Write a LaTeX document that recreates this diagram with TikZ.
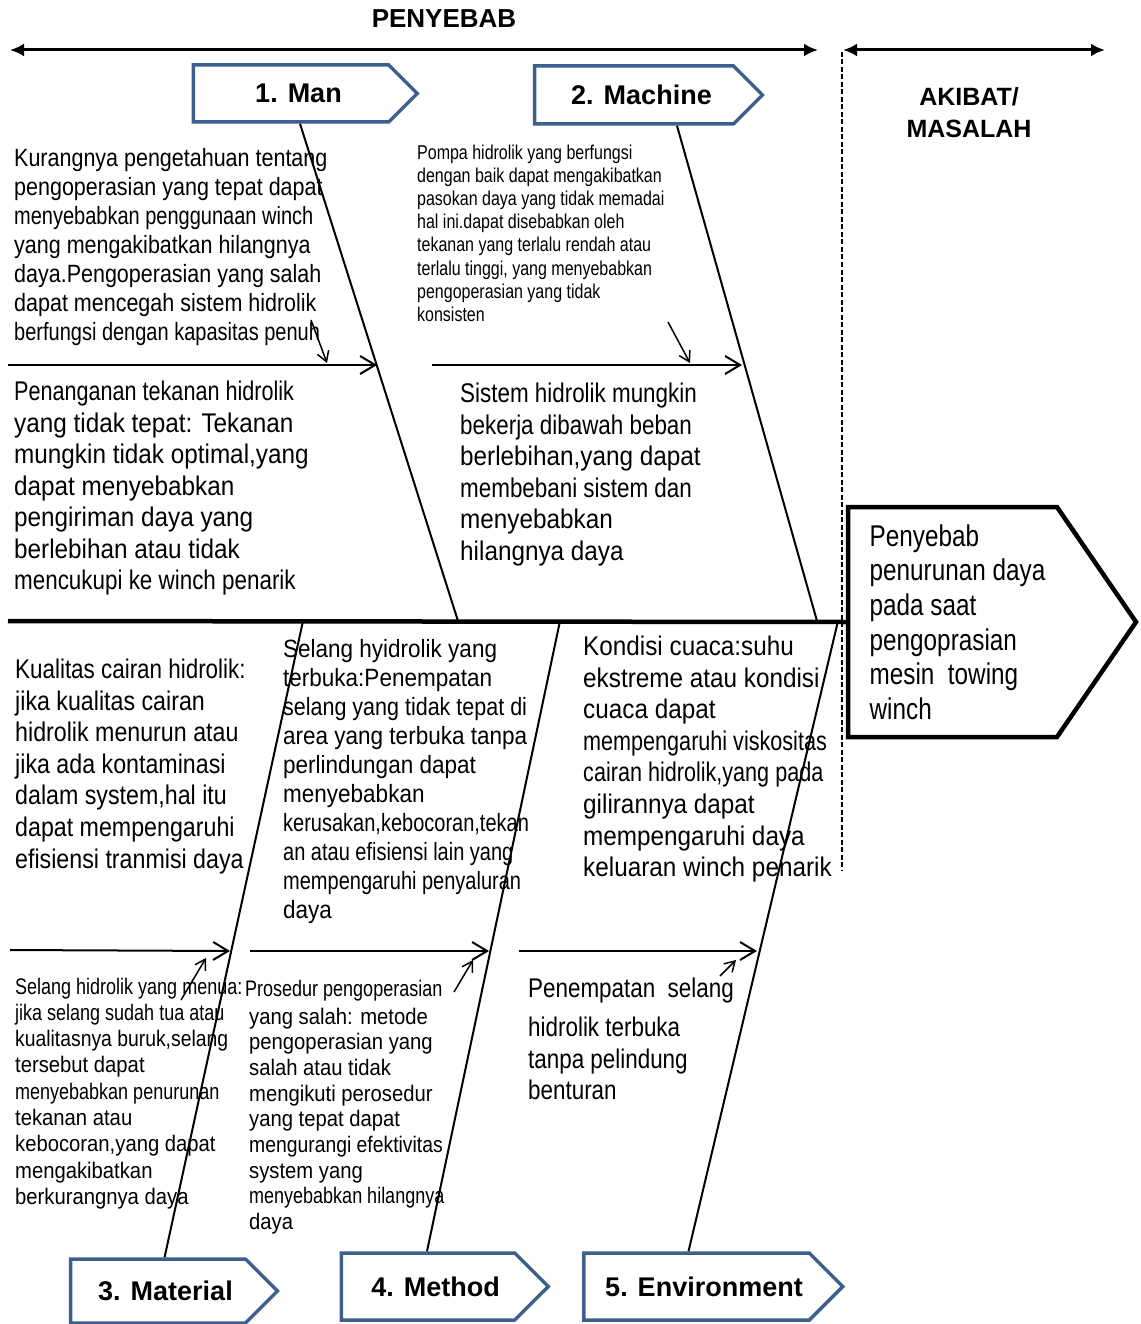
\documentclass[tikz,border=0pt]{standalone}
\usepackage{fontspec}
\setmainfont{Liberation Sans}
\newfontfamily\bodyfont[FakeStretch=0.86]{Liberation Sans}
\newfontfamily\midfont[FakeStretch=0.83]{Liberation Sans}
\newfontfamily\headfont[FakeStretch=0.81]{Liberation Sans}
\newfontfamily\tightfont[FakeStretch=0.8]{Liberation Sans}
\newfontfamily\loosefont[FakeStretch=0.9]{Liberation Sans}
\usetikzlibrary{arrows.meta,shapes.symbols}
\definecolor{catblue}{RGB}{60,95,142}

\tikzset{
  catbox/.style={signal, signal to=east, draw=catblue, line width=3.5pt, inner sep=0pt,
    font=\bfseries\fontsize{27}{32}\selectfont, execute at begin node=\hspace*{15pt}},
  headbox/.style={signal, signal to=east, signal pointer angle=111, draw, line width=4.5pt,
    inner sep=0pt, align=left, font=\headfont\fontsize{30}{34.6}\selectfont},
  cause/.style={anchor=base west, align=left, inner sep=0pt},
  bone/.style={line width=2pt},
  spine/.style={line width=4.5pt},
  twig/.style={line width=2pt, -{Straight Barb[length=15pt,width=18pt]}},
  hint/.style={line width=1.5pt, -{Straight Barb[length=10pt,width=12pt]}},
  span/.style={line width=3pt, {Latex[length=14pt,width=13pt]}-{Latex[length=14pt,width=13pt]}}
}

\begin{document}
\begin{tikzpicture}[x=1pt,y=-1pt]
\useasboundingbox (0,0) rectangle (1140,1324);

% Headings (base of a multi-line node is its last line)
\node[font=\bfseries\fontsize{26}{30}\selectfont, anchor=base] (penyebab) at (444,27.5) {PENYEBAB};
\node[font=\bfseries\fontsize{25}{32}\selectfont, align=center, anchor=base] (akibat) at (969,138) {AKIBAT/\\MASALAH};
\coordinate (cl) at (10,50);
\coordinate (cr) at (818,50);
\coordinate (el) at (843,50);
\coordinate (er) at (1105,50);
\draw[span] (cl) -- (cr);
\draw[span] (el) -- (er);
\coordinate (dtop) at (842,52);
\coordinate (dbot) at (842,870);
\draw[line width=1.3pt, dash pattern=on 5pt off 2.5pt] (dtop) -- (dbot);

% Categories
\node[catbox, minimum width=224pt, minimum height=57pt] (man) at (291,93.5) {1. Man};
\node[catbox, minimum width=228pt, minimum height=58pt] (machine) at (634,95) {2. Machine};
\node[catbox, minimum width=207pt, minimum height=64pt] (material) at (158,1291) {3. Material};
\node[catbox, minimum width=207pt, minimum height=67pt] (method) at (428,1286.5) {4. Method};
\node[catbox, minimum width=259pt, minimum height=67pt] (environment) at (696.5,1286.5) {5. Environment};

% Effect
\node[headbox, minimum width=288pt, minimum height=230pt] (effect) at (952.5,622) {\hspace*{10pt}Penyebab\\\hspace*{10pt}penurunan daya\\\hspace*{10pt}pada saat\\\hspace*{10pt}pengoprasian\\\hspace*{10pt}mesin\ \ towing\\\hspace*{10pt}winch};

% Spine and bones
\coordinate (tail) at (8,621);
\draw[spine] (tail) -- (effect.west);
\coordinate (j1) at (458,621);
\coordinate (j2) at (817,621);
\coordinate (j3) at (303,621);
\coordinate (j4) at (560,621);
\coordinate (j5) at (838,621);
\draw[bone] ([xshift=9pt]man.south) -- (j1);
\draw[bone] ([xshift=43pt]machine.south) -- (j2);
\draw[bone] (j3) -- ([xshift=6.6pt]material.north);
\draw[bone] (j4) -- ([xshift=-1pt]method.north);
\draw[bone] (j5) -- ([xshift=-8pt]environment.north);

% Sub causes
\coordinate (t1s) at (8,365);   \coordinate (t1e) at (377,365);
\coordinate (t2s) at (432,365); \coordinate (t2e) at (742,365);
\coordinate (t3s) at (10,950);  \coordinate (t3e) at (230,951);
\coordinate (t4s) at (250,951); \coordinate (t4e) at (489,951);
\coordinate (t5s) at (519,951); \coordinate (t5e) at (757,951);
\draw[twig] (t1s) -- (t1e);
\draw[twig] (t2s) -- (t2e);
\draw[twig] (t3s) -- (t3e);
\draw[twig] (t4s) -- (t4e);
\draw[twig] (t5s) -- (t5e);

% Small pointers
\coordinate (h1s) at (311,320); \coordinate (h1e) at (327,363);
\coordinate (h2s) at (668,322); \coordinate (h2e) at (690,363);
\coordinate (h3s) at (181,1000); \coordinate (h3e) at (206,958);
\coordinate (h4s) at (454,992); \coordinate (h4e) at (473,960);
\coordinate (h5s) at (720,976); \coordinate (h5e) at (736,960);
\draw[hint] (h1s) -- (h1e);
\draw[hint] (h2s) -- (h2e);
\draw[hint] (h3s) -- (h3e);
\draw[hint] (h4s) -- (h4e);
\draw[hint] (h5s) -- (h5e);

% Cause texts
\node[cause, font=\bodyfont\fontsize{25}{29}\selectfont] (mantop) at (14,340) {Kurangnya pengetahuan tentang\\pengoperasian yang tepat dapat\\{\tightfont menyebabkan penggunaan winch}\\yang mengakibatkan hilangnya\\daya.Pengoperasian yang salah\\dapat mencegah sistem hidrolik\\{\tightfont berfungsi dengan kapasitas penuh}};
\node[cause, font=\tightfont\fontsize{20}{23.2}\selectfont] (machtop) at (417,321.4) {Pompa hidrolik yang berfungsi\\dengan baik dapat mengakibatkan\\pasokan daya yang tidak memadai\\hal ini.dapat disebabkan oleh\\tekanan yang terlalu rendah atau\\terlalu tinggi, yang menyebabkan\\pengoperasian yang tidak\\konsisten};
\node[cause, font=\loosefont\fontsize{27}{31.5}\selectfont] (manlow) at (14,589.5) {{\tightfont Penanganan tekanan hidrolik}\\yang tidak tepat: Tekanan\\mungkin tidak optimal,yang\\dapat menyebabkan\\pengiriman daya yang\\berlebihan atau tidak\\{\midfont mencukupi ke winch penarik}};
\node[cause, font=\midfont\fontsize{27}{31.6}\selectfont] (machlow) at (460,560.5) {Sistem hidrolik mungkin\\bekerja dibawah beban\\{\loosefont berlebihan,yang dapat}\\membebani sistem dan\\{\loosefont menyebabkan}\\{\loosefont hilangnya daya}};
\node[cause, font=\bodyfont\fontsize{27}{31.6}\selectfont] (mattop) at (15,868) {{\midfont Kualitas cairan hidrolik:}\\jika kualitas cairan\\hidrolik menurun atau\\jika ada kontaminasi\\dalam system,hal itu\\dapat mempengaruhi\\efisiensi tranmisi daya};
\node[cause, font=\loosefont\fontsize{25}{28.9}\selectfont] (methtop) at (283,918) {Selang hyidrolik yang\\terbuka:Penempatan\\{\bodyfont selang yang tidak tepat di}\\area yang terbuka tanpa\\perlindungan dapat\\menyebabkan\\{\tightfont kerusakan,kebocoran,tekan}\\{\tightfont an atau efisiensi lain yang}\\{\tightfont mempengaruhi penyaluran}\\daya};
\node[cause, font=\loosefont\fontsize{27}{31.6}\selectfont] (envtop) at (583,876.7) {Kondisi cuaca:suhu\\ekstreme atau kondisi\\cuaca dapat\\{\tightfont mempengaruhi viskositas}\\{\tightfont cairan hidrolik,yang pada}\\gilirannya dapat\\mempengaruhi daya\\keluaran winch penarik};
\node[cause, font=\loosefont\fontsize{22.5}{26.3}\selectfont] (matlow) at (15,1204.4) {{\tightfont Selang hidrolik yang menua:}\\{\tightfont jika selang sudah tua atau}\\{\bodyfont kualitasnya buruk,selang}\\tersebut dapat\\{\tightfont menyebabkan penurunan}\\tekanan atau\\kebocoran,yang dapat\\mengakibatkan\\berkurangnya daya};
\node[cause, font=\loosefont\fontsize{22.5}{25.7}\selectfont] (methlow) at (245,1229.6) {{\tightfont Prosedur pengoperasian}\\[2.3pt]\hspace*{4pt}yang salah: metode\\\hspace*{4pt}pengoperasian yang\\\hspace*{4pt}salah atau tidak\\\hspace*{4pt}mengikuti perosedur\\\hspace*{4pt}yang tepat dapat\\\hspace*{4pt}{\bodyfont mengurangi efektivitas}\\\hspace*{4pt}system yang\\\hspace*{4pt}{\tightfont menyebabkan hilangnya}\\\hspace*{4pt}daya};
\node[cause, font=\midfont\fontsize{27}{31.5}\selectfont] (envlow) at (528,1099.5) {Penempatan\ \ selang\\[7.5pt]hidrolik terbuka\\tanpa pelindung\\benturan};
\end{tikzpicture}
\end{document}
